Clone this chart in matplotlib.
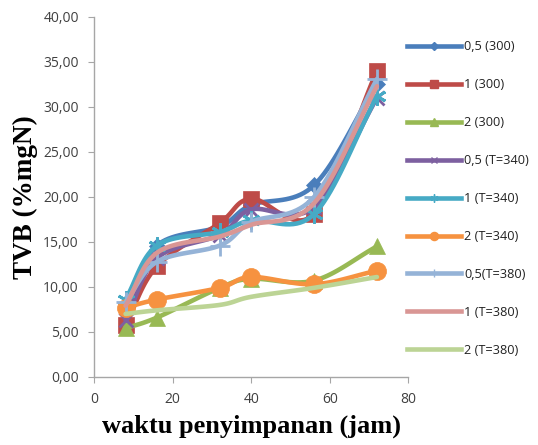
import numpy as np
import matplotlib
matplotlib.use("Agg")
import matplotlib.pyplot as plt
from matplotlib.ticker import FuncFormatter

hours = [8, 16, 32, 40, 56, 72]
labels = ["0,5 (300)", "1 (300)", "2 (300)", "0,5 (T=340)", "1 (T=340)",
          "2 (T=340)", "0,5(T=380)", "1 (T=380)", "2 (T=380)"]
s05_300 = [7.5, 14.6, 16.7, 19.1, 21.3, 32.6]
s1_300 = [5.8, 12.3, 17.1, 19.8, 18.1, 34.0]
s2_300 = [5.4, 6.6, 9.9, 10.9, 10.7, 14.5]
s05_340 = [6.3, 13.2, 15.8, 18.6, 18.9, 31.0]
s1_340 = [8.6, 14.6, 16.1, 17.4, 18.1, 31.2]
s2_340 = [7.7, 8.6, 9.9, 11.1, 10.3, 11.8]
s05_380 = [8.3, 12.8, 14.6, 17.2, 20.0, 33.1]
s1_380 = [7.9, 13.8, 15.6, 16.9, 19.3, 32.3]
s2_380 = [7.0, 7.4, 8.0, 8.9, 9.9, 11.1]
series = [s05_300, s1_300, s2_300, s05_340, s1_340, s2_340, s05_380, s1_380, s2_380]

colors = ["#4A7EBB", "#BE4B48", "#98B954", "#7D60A0", "#46AAC5",
          "#F69240", "#95B3D7", "#D99694", "#BCD495"]
markers = ["D", "s", "^", "x", (6, 2, 0), "o", "+", None, None]
msizes = [8, 12, 12, 10, 13, 13, 14, 0, 0]


def smooth(x, y, n=20):
    # Catmull-Rom style smoothing (like Excel smoothed lines), for drawing only
    x = np.asarray(x, float)
    y = np.asarray(y, float)
    px = np.concatenate([[2 * x[0] - x[1]], x, [2 * x[-1] - x[-2]]])
    py = np.concatenate([[2 * y[0] - y[1]], y, [2 * y[-1] - y[-2]]])
    ox, oy = [], []
    t = np.linspace(0, 1, n)
    for i in range(1, len(px) - 2):
        p0, p1, p2, p3 = [np.array([px[j], py[j]]) for j in range(i - 1, i + 3)]
        t1 = (p2 - p0) / 6
        t2 = (p3 - p1) / 6
        c1 = p1 + t1
        c2 = p2 - t2
        pts = ((1 - t) ** 3)[:, None] * p1 + (3 * (1 - t) ** 2 * t)[:, None] * c1 + \
              (3 * (1 - t) * t ** 2)[:, None] * c2 + (t ** 3)[:, None] * p2
        ox.extend(pts[:, 0])
        oy.extend(pts[:, 1])
    return ox, oy


fig = plt.figure(figsize=(5.38, 4.45), dpi=100)
ax = fig.add_axes([0.175, 0.153, 0.584, 0.809])

handles = []
for i, (vals, lab) in enumerate(zip(series, labels)):
    sx, sy = smooth(hours, vals)
    ax.plot(sx, sy, color=colors[i], lw=3.3, solid_capstyle="round", zorder=2 + i)
    if markers[i] is not None:
        mew = 2 if markers[i] in ("x", "+") or isinstance(markers[i], tuple) else 0.5
        ax.plot(hours, vals, linestyle="none", marker=markers[i], ms=msizes[i],
                color=colors[i], mec=colors[i], mew=mew, zorder=2 + i)
    h, = ax.plot([], [], color=colors[i], lw=3.3,
                 marker=markers[i], ms=max(msizes[i] * 0.45, 1), mew=1,
                 mec=colors[i], label=lab)
    handles.append(h)

ax.set_xlim(0, 80)
ax.set_ylim(0, 40)
ax.set_xticks([0, 20, 40, 60, 80])
ax.set_yticks(np.arange(0, 41, 5))
ax.yaxis.set_major_formatter(FuncFormatter(lambda v, p: f"{v:.2f}".replace(".", ",")))
for side in ["top", "right"]:
    ax.spines[side].set_visible(False)
for side in ["left", "bottom"]:
    ax.spines[side].set_color("#A6A6A6")
    ax.spines[side].set_linewidth(1)
ax.tick_params(axis="both", colors="#A6A6A6", labelcolor="#404040",
               labelsize=10, length=4, direction="out")
ax.tick_params(axis="y", pad=7)
ax.tick_params(axis="x", pad=7)
for lbl in ax.get_xticklabels() + ax.get_yticklabels():
    lbl.set_fontfamily("Open Sans")

ax.set_xlabel("waktu penyimpanan (jam)", fontfamily="Liberation Serif",
              fontweight="bold", fontsize=19, labelpad=5)
ax.set_ylabel("TVB (%mgN)", fontfamily="Liberation Serif",
              fontweight="bold", fontsize=19.5, labelpad=4)

leg = fig.legend(handles=handles, loc="upper left", bbox_to_anchor=(0.735, 0.935),
                 frameon=False, prop={"family": "Open Sans", "size": 9.2},
                 handlelength=4.2, handletextpad=0.3, labelspacing=1.95)
for t in leg.get_texts():
    t.set_color("#222222")

fig.savefig("out.png", dpi=100)
